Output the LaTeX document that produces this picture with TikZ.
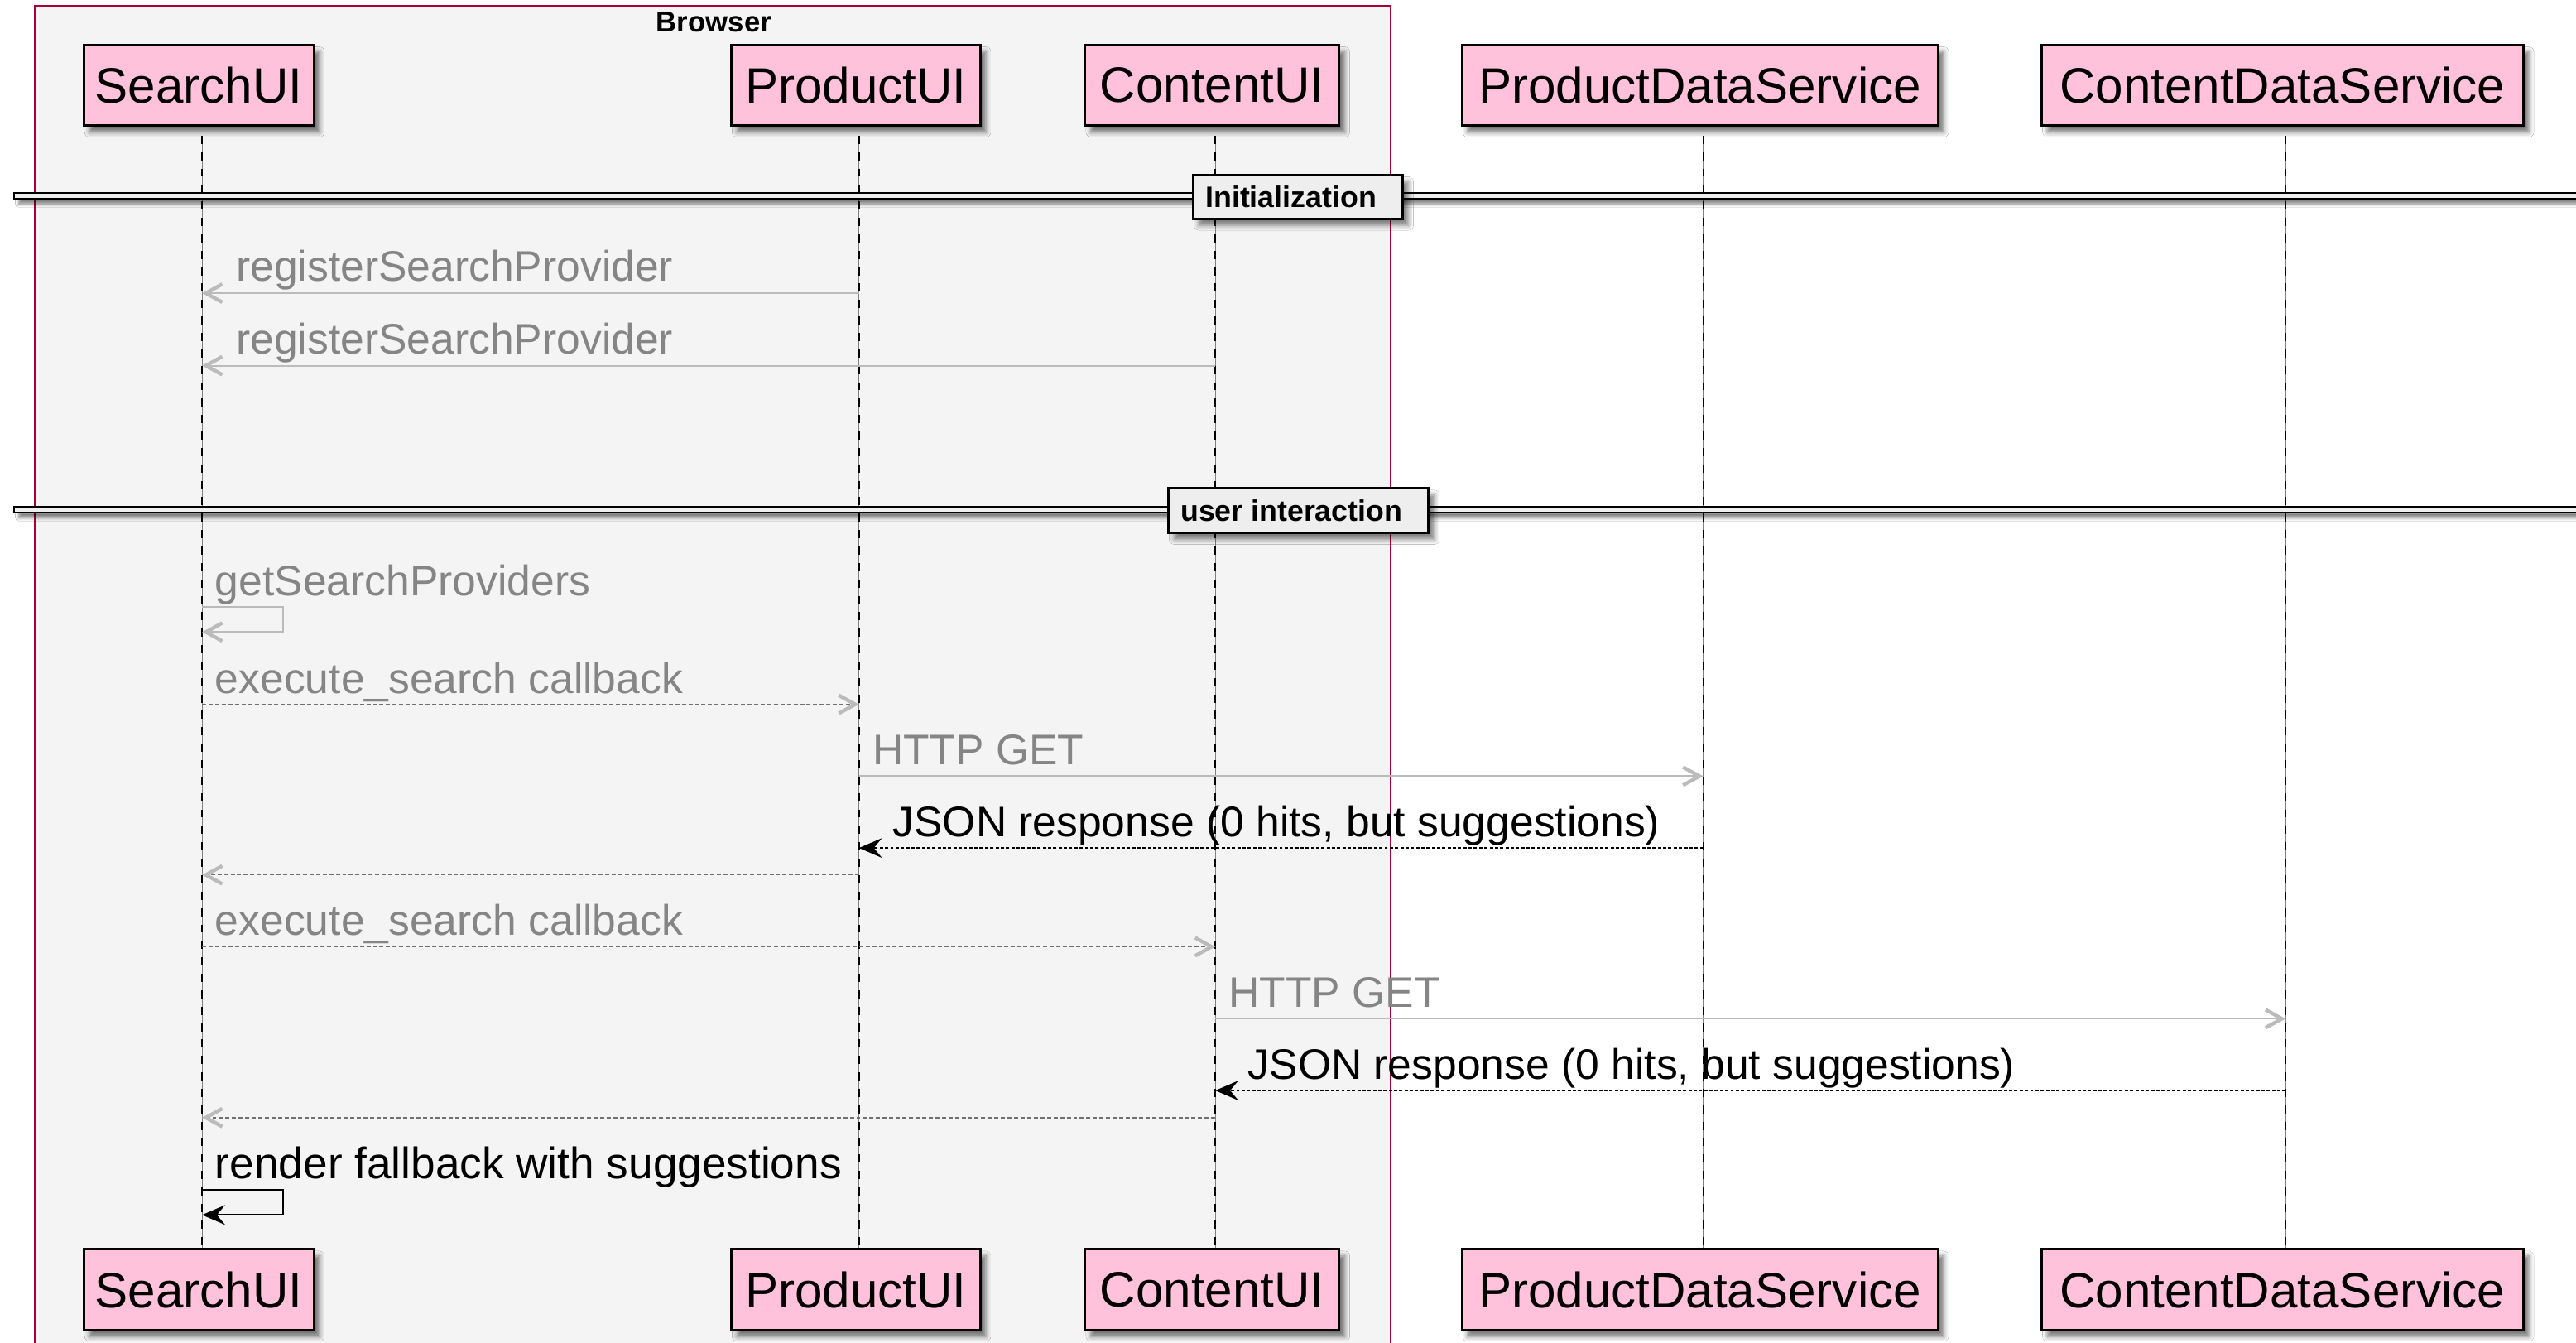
\documentclass[tikz,border=0pt]{standalone}
\usepackage{fontspec}
\setmainfont{Liberation Sans}
\usetikzlibrary{arrows.meta,shadows.blur}
\definecolor{pinkbox}{HTML}{FFC2DA}
\definecolor{frameclr}{HTML}{A80036}
\definecolor{framefill}{HTML}{F4F4F4}
\definecolor{lgray}{HTML}{BBBBBB}
\definecolor{tgray}{HTML}{858585}
\definecolor{dgray}{HTML}{707070}
\definecolor{divfill}{HTML}{EEEEEE}
\begin{document}
\begin{tikzpicture}[x=1pt,y=-1pt,
  part/.style={draw=black, line width=1.5pt, fill=pinkbox, anchor=north west, inner sep=0pt,
    minimum height=48.9pt, font=\fontsize{30.3}{35}\selectfont,
    blur shadow={shadow xshift=3.5pt, shadow yshift=-4pt, shadow blur radius=3pt, shadow opacity=55}},
  life/.style={black, line width=1pt, dash pattern=on 5pt off 5pt},
  lifebase/.style={black!50, line width=0.4pt},
  divbar/.style={draw=black, line width=0.9pt, fill=divfill,
    blur shadow={shadow xshift=3pt, shadow yshift=-3pt, shadow blur radius=2pt, shadow opacity=50}},
  divlabel/.style={draw=black, line width=1.6pt, fill=divfill, anchor=north west, inner sep=0pt,
    font=\fontsize{18}{21}\selectfont\bfseries,
    blur shadow={shadow xshift=3.5pt, shadow yshift=-4pt, shadow blur radius=3pt, shadow opacity=50}},
  glabel/.style={anchor=base west, inner sep=0pt, text=tgray, font=\fontsize{26}{30}\selectfont},
  blabel/.style={anchor=base west, inner sep=0pt, text=black, font=\fontsize{26}{30}\selectfont},
  gmsg/.style={lgray, line width=1.1pt, -{Straight Barb[length=10pt,width=11pt,line width=2.2pt]}},
  gret/.style={dgray, line width=0.7pt, dash pattern=on 2.5pt off 1.5pt,
    -{Straight Barb[length=10pt,width=11pt,line width=2.2pt,color=lgray]}},
  bret/.style={black, line width=0.8pt, dash pattern=on 2pt off 1.2pt,
    -{Stealth[length=14pt,width=12pt,inset=5pt]}},
  bmsg/.style={black, line width=1.1pt, -{Stealth[length=14pt,width=12pt,inset=5pt]}}
]
\useasboundingbox (0,0) rectangle (1568,816.76);
\clip (0,0) rectangle (1568,816.76);
\fill[white] (0,0) rectangle (1568,816.76);

% Browser frame
\draw[frameclr, line width=1pt, fill=framefill] (21.3,3.7) rectangle (846.7,840);
\node[anchor=base, inner sep=0pt, font=\fontsize{17.5}{20}\selectfont\bfseries] (browser) at (434.5,19.2) {Browser};

% participants
\node[part, minimum width=140pt] (sT) at (50.25,26.75) {SearchUI};
\node[part, minimum width=151.5pt] (pT) at (444.35,26.75) {ProductUI};
\node[part, minimum width=154.5pt] (cT) at (659.75,26.75) {ContentUI};
\node[part, minimum width=289.8pt] (dT) at (889.05,26.75) {ProductDataService};
\node[part, minimum width=293pt] (eT) at (1242.05,26.75) {ContentDataService};

\node[part, minimum width=140pt] (sB) at (50.25,759.55) {SearchUI};
\node[part, minimum width=151.5pt] (pB) at (444.35,759.55) {ProductUI};
\node[part, minimum width=154.5pt] (cB) at (659.75,759.55) {ContentUI};
\node[part, minimum width=289.8pt] (dB) at (889.05,759.55) {ProductDataService};
\node[part, minimum width=293pt] (eB) at (1242.05,759.55) {ContentDataService};

% lifeline anchors
\foreach \n in {s,p,c,d,e}{
  \coordinate (\n x) at ([xshift=2pt]\n T.south);
  \coordinate (\n a) at ([xshift=2pt,yshift=-5.4pt]\n T.south);
  \coordinate (\n b) at ([xshift=2pt]\n B.north);
  \draw[lifebase] (\n a) -- (\n b);
  \draw[life] (\n a) -- (\n b);
}

% dividers
\path[divbar] (8.4,117.4) rectangle (1580,121.0);
\node[divlabel, minimum height=26.5pt] (div1) at (725.4,105.8) {\hspace*{7.6pt}Initialization\hspace*{16pt}};
\path[divbar] (8.4,308.4) rectangle (1580,312.0);
\node[divlabel, minimum height=27pt] (div2) at (710.4,296.4) {\hspace*{7.4pt}user interaction\hspace*{16pt}};

% message rows
\coordinate (r1) at (0,178.4);
\coordinate (r2) at (0,222.5);
\coordinate (r3a) at (0,369.5);
\coordinate (r3b) at (0,384.6);
\coordinate (r4) at (0,428.6);
\coordinate (r5) at (0,472.3);
\coordinate (r6) at (0,516.0);
\coordinate (r7) at (0,532.4);
\coordinate (r8) at (0,576.1);
\coordinate (r9) at (0,619.9);
\coordinate (r10) at (0,663.6);
\coordinate (r11) at (0,680.1);
\coordinate (r12a) at (0,723.9);
\coordinate (r12b) at (0,739.3);

% messages
\node[glabel] (l1) at (143.6,171.3) {registerSearchProvider};
\draw[gmsg] (px |- r1) -- (sx |- r1);
\node[glabel] (l2) at (143.6,215.4) {registerSearchProvider};
\draw[gmsg] (cx |- r2) -- (sx |- r2);

\node[glabel] (l3) at (130.8,362.6) {getSearchProviders};
\draw[gmsg] (sx |- r3a) -- ++(49.4,0) |- (sx |- r3b);

\node[glabel] (l4) at (130.8,421.8) {execute\_search callback};
\draw[gret] (sx |- r4) -- (px |- r4);

\node[glabel] (l5) at (530.9,465.5) {HTTP GET};
\draw[gmsg] (px |- r5) -- (dx |- r5);

\node[blabel] (l6) at (543.3,509.0) {JSON response (0 hits, but suggestions)};
\draw[bret] (dx |- r6) -- (px |- r6);

\draw[gret] (px |- r7) -- (sx |- r7);

\node[glabel] (l8) at (130.8,569.3) {execute\_search callback};
\draw[gret] (sx |- r8) -- (cx |- r8);

\node[glabel] (l9) at (747.8,612.9) {HTTP GET};
\draw[gmsg] (cx |- r9) -- (ex |- r9);

\node[blabel] (l10) at (759.5,656.6) {JSON response (0 hits, but suggestions)};
\draw[bret] (ex |- r10) -- (cx |- r10);

\draw[gret] (cx |- r11) -- (sx |- r11);

\node[blabel, font=\fontsize{26.8}{31}\selectfont] (l12) at (130.8,717.1) {render fallback with suggestions};
\draw[bmsg] (sx |- r12a) -- ++(49.4,0) |- (sx |- r12b);
\end{tikzpicture}
\end{document}
